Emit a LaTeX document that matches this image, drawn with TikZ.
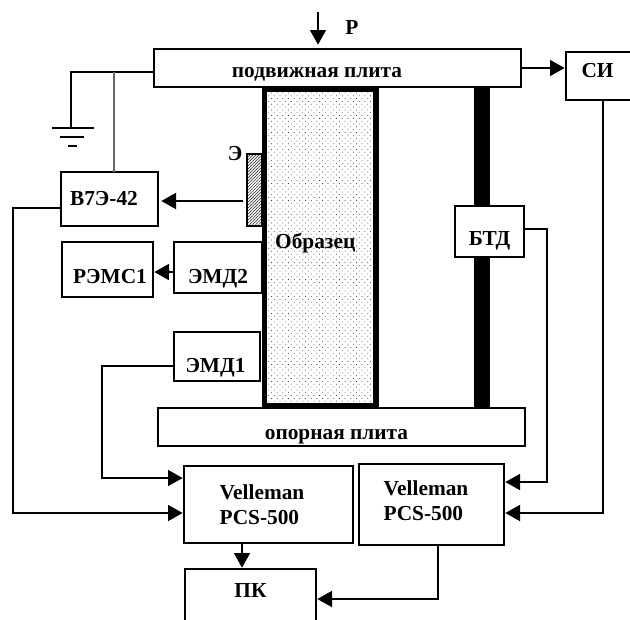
\documentclass[tikz,border=0pt]{standalone}
\usepackage{fontspec}
\setmainfont{Liberation Serif}
\usepackage{tikz}
\usetikzlibrary{arrows.meta, patterns.meta}

\tikzset{
    box/.style 2 args={draw, line width=1.1pt, inner sep=0pt, outer sep=0pt, fill=white,
        minimum width=#1*0.75pt, minimum height=#2*0.75pt,
        font=\bfseries\fontsize{16}{18.7}\selectfont},
    tag/.style={inner sep=0pt, font=\bfseries\fontsize{16}{18.7}\selectfont},
    wire/.style={line width=1.2pt},
    tip/.style={line width=1.2pt, -{Triangle[length=11pt, width=12pt]}, shorten >=1pt},
}

\begin{document}
\begin{tikzpicture}[x=0.75pt, y=-0.75pt]
    \useasboundingbox (0,0) rectangle (630,619);
    \clip (0,0) rectangle (630,619);

    % rod and sample
    \node[fill=black, inner sep=0pt, minimum width=12pt, minimum height=240pt] (rod) at (482,247) {};
    \node[box={111.5}{317}, line width=4.2pt, text height=5.25pt, fill=none,
        pattern={Dots[radius=0.4pt, distance=3pt, angle=45]}, pattern color=black!75] (sample) at (320.25,247.5) {Образец\hspace*{7.5pt}};

    % plates
    \node[box={367}{38}, text height=16.5pt] (topPlate) at (337.5,68) {подвижная плита\hspace*{30.75pt}};
    \node[box={367}{38}, text height=22.5pt] (basePlate) at (341.5,427) {опорная плита\hspace*{7.5pt}};

    % blocks
    \node[box={15}{72}, pattern={Lines[distance=1.6pt, angle=45, line width=0.5pt]}, pattern color=black!75] (electrode) at (254.5,190) {};
    \node[tag] (electrodeText) at (235,154) {Э};
    \node[box={97}{54}, text height=10.5pt] (voltmeter) at (109.5,199) {В7Э-42\hspace*{8.25pt}};
    \node[box={91}{55}, text height=21.75pt] (rems) at (107.5,269.5) {\hspace*{3.75pt}РЭМС1};
    \node[box={88}{51}, text height=27.75pt] (emdTwo) at (218,267.5) {ЭМД2};
    \node[box={86}{49}, text height=27.75pt] (emdOne) at (217,356.5) {ЭМД1\hspace*{2.25pt}};
    \node[box={69}{51}, text height=24.75pt] (btd) at (489.5,231.5) {БТД};
    \node[box={80}{48}, text height=3pt] (si) at (606,76) {СИ\hspace*{12.75pt}};
    \node[box={169}{77}, align=left, text height=30pt] (pcsOne) at (268.5,504.5) {Velleman\hspace*{9.75pt}\\PCS-500};
    \node[box={145}{81}, align=left, text height=24pt] (pcsTwo) at (431.5,504.5) {Velleman\hspace*{8.25pt}\\PCS-500};
    \node[box={131}{80}, text height=0pt, text depth=18pt] (pc) at (250.5,609) {ПК};

    % load
    \node[tag] (load) at (352,28) {Р};
    \coordinate (loadStart) at (318,12);
    \coordinate (loadEnd) at (318,46);
    \draw[tip] (loadStart) -- (loadEnd);

    % earth
    \coordinate (earth) at (71,128);
    \draw[wire] ([yshift=-3pt]topPlate.west) -| (earth);
    \draw[line width=1.4pt] (52,128) -- (94,128);
    \draw[line width=1.4pt] (60,137) -- (84,137);
    \draw[line width=1.4pt] (68,146) -- (77,146);
    \draw[line width=0.8pt, black!60] (114,72) -- (114,172);

    % signals
    \draw[tip] (topPlate.east) -- ([yshift=6pt]si.west);
    \draw[tip, shorten >=2.5pt] (243,201) -- (voltmeter.east |- 0,201);
    \draw[tip] ([yshift=-3.4pt]emdTwo.west) -- (rems.east |- 0,272);
    \coordinate (pcsOneOut) at (242,543);
    \draw[tip] (pcsOneOut) -- (pc.north -| pcsOneOut);
    \draw[tip] (pcsTwo.south) ++(6.5,0) |- (316,599);
    \draw[tip] (emdOne.west) ++(0,9.5) -| (102,478) -- (pcsOne.west |- 0,478);
    \draw[tip] ([yshift=-6.75pt]voltmeter.west) -| (13,513) -- (pcsOne.west |- 0,513);
    \draw[tip] (btd.east) ++(0,-2.5) -| (547,482) -- (pcsTwo.east |- 0,482);
    \draw[tip] (603,100) |- (pcsTwo.east |- 0,513);
\end{tikzpicture}
\end{document}
